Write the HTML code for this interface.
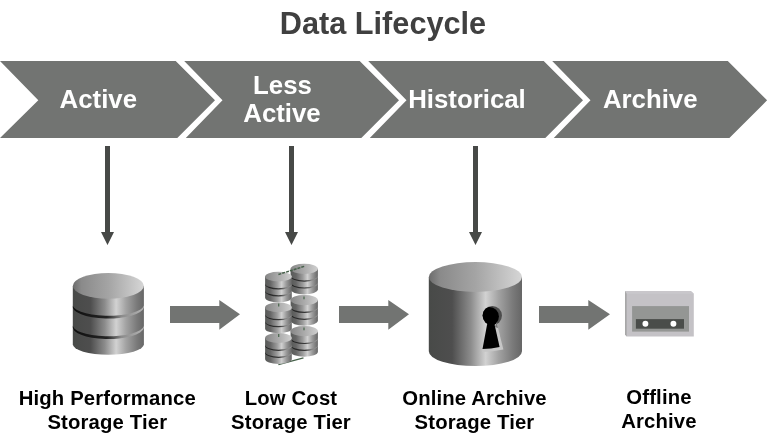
<!DOCTYPE html>
<html>
<head>
<meta charset="utf-8">
<title>Data Lifecycle</title>
<style>
html,body{margin:0;padding:0;background:#fff;}
body{width:768px;height:440px;overflow:hidden;}
svg{display:block;will-change:transform;}
text{font-family:"Liberation Sans",Arial,sans-serif;font-weight:bold;}
.title{font-size:30.7px;fill:#404040;}
.ch{font-size:25.8px;fill:#fff;}
.lb{font-size:20.3px;letter-spacing:0.15px;fill:#000;}
</style>
</head>
<body>
<svg width="768" height="440" viewBox="0 0 768 440">
<defs>
<linearGradient id="body" x1="0" x2="1" y1="0" y2="0">
<stop offset="0" stop-color="#484a48"/>
<stop offset="0.25" stop-color="#4e4e4e"/>
<stop offset="0.45" stop-color="#8c8c8c"/>
<stop offset="0.61" stop-color="#d2d2d2"/>
<stop offset="0.75" stop-color="#a2a2a2"/>
<stop offset="0.9" stop-color="#7a7a7a"/>
<stop offset="1" stop-color="#666"/>
</linearGradient>
<linearGradient id="top" x1="0" x2="1" y1="0" y2="0">
<stop offset="0" stop-color="#6c6c6c"/>
<stop offset="0.12" stop-color="#8a8a8a"/>
<stop offset="0.5" stop-color="#a4a4a4"/>
<stop offset="1" stop-color="#d6d6d6"/>
</linearGradient>
<linearGradient id="band" gradientUnits="userSpaceOnUse" x1="72.800" x2="143.900" y1="0" y2="0">
<stop offset="0" stop-color="#0e0e0e"/>
<stop offset="0.48" stop-color="#242424"/>
<stop offset="0.68" stop-color="#8a8a8a"/>
<stop offset="1" stop-color="#b4b4b4"/>
</linearGradient>
<linearGradient id="body2" x1="0" x2="1" y1="0" y2="0">
<stop offset="0" stop-color="#585a58"/>
<stop offset="0.2" stop-color="#666"/>
<stop offset="0.45" stop-color="#9c9c9c"/>
<stop offset="0.62" stop-color="#d0d0d0"/>
<stop offset="0.8" stop-color="#999"/>
<stop offset="1" stop-color="#666"/>
</linearGradient>
<linearGradient id="top2" x1="0" x2="1" y1="0" y2="0">
<stop offset="0" stop-color="#868686"/>
<stop offset="1" stop-color="#d0d0d0"/>
</linearGradient>
<linearGradient id="band2" x1="0" x2="1" y1="0" y2="0">
<stop offset="0" stop-color="#1c1c1c"/>
<stop offset="0.55" stop-color="#3a3a3a"/>
<stop offset="0.75" stop-color="#808080"/>
<stop offset="1" stop-color="#999"/>
</linearGradient>
</defs>
<rect width="768" height="440" fill="#fff"/>
<text class="title" x="383" y="33.5" text-anchor="middle">Data Lifecycle</text>
<!-- chevrons -->
<g fill="#727472">
<polygon points="0.0,61 175.7,61 215.0,100.3 177.3,138 0.0,138 38.3,100.3"/>
<polygon points="184.2,61 359.7,61 399.0,100.3 361.3,138 185.8,138 222.5,100.3"/>
<polygon points="368.2,61 543.7,61 583.0,100.3 545.3,138 369.8,138 406.5,100.3"/>
<polygon points="552.2,61 727.8,61 767.1,100.3 729.4,138 553.8,138 590.5,100.3"/>
</g>
<text class="ch" x="98.300" y="107.600" text-anchor="middle">Active</text>
<text class="ch" x="282.5" y="93.5" text-anchor="middle">Less</text>
<text class="ch" x="282" y="121.5" text-anchor="middle">Active</text>
<text class="ch" x="467" y="107.600" text-anchor="middle">Historical</text>
<text class="ch" x="650.200" y="107.600" text-anchor="middle">Archive</text>
<!-- vertical arrows -->
<g fill="#474947">
<path d="M105.0 146h5v86.100h4l-6.500 13l-6.500 -13h4z"/>
<path d="M289.0 146h5v86.100h4l-6.500 13l-6.500 -13h4z"/>
<path d="M473.0 146h5v86.100h4l-6.500 13l-6.500 -13h4z"/>
</g>
<!-- horizontal arrows -->
<g fill="#727472">
<path d="M170 306h49.3v-6l20.7 14.3l-20.7 15.5v-6.8h-49.3z"/>
<path d="M339 306h49.3v-6l20.7 14.3l-20.7 15.5v-6.8h-49.3z"/>
<path d="M539 306h49.3v-6l21.7 14.3l-21.7 15.5v-6.8h-49.3z"/>
</g>
<!-- icon 1: database -->
<g>
<path d="M72.800 285.900V344.300A35.550 10.500 0 0 0 143.900 344.300V285.900z" fill="url(#body)"/>
<path d="M72.800 303.600A35.550 11.200 0 0 0 143.900 305.600V307.600A35.550 11.900 0 0 1 72.800 305.600z" fill="url(#band)"/>
<path d="M72.800 324.100A35.550 11.200 0 0 0 143.900 326.100V328.100A35.550 11.900 0 0 1 72.800 326.100z" fill="url(#band)"/>
<ellipse cx="108.350" cy="285.900" rx="35.550" ry="12.800" fill="url(#top)"/>
</g>
<!-- icon 2: disk array -->
<g>
<path d="M278.400 364.600L303.500 357.900" stroke="#46604a" stroke-width="1.300" fill="none"/>
<path d="M290.6 268.8V289.3A13.65 5.1 0 0 0 317.9 289.3V268.8z" fill="url(#body2)"/><path d="M290.6 275.4A13.65 5.1 0 0 0 317.9 275.4V276.3A13.65 5.4 0 0 1 290.6 276.3z" fill="url(#band2)"/><path d="M290.6 282.3A13.65 5.1 0 0 0 317.9 282.3V283.2A13.65 5.4 0 0 1 290.6 283.2z" fill="url(#band2)"/><ellipse cx="304.25" cy="268.8" rx="13.65" ry="5.1" fill="url(#top2)"/>
<path d="M290.6 300.1V320.6A13.65 5.1 0 0 0 317.9 320.6V300.1z" fill="url(#body2)"/><path d="M290.6 306.7A13.65 5.1 0 0 0 317.9 306.7V307.6A13.65 5.4 0 0 1 290.6 307.6z" fill="url(#band2)"/><path d="M290.6 313.6A13.65 5.1 0 0 0 317.9 313.6V314.5A13.65 5.4 0 0 1 290.6 314.5z" fill="url(#band2)"/><ellipse cx="304.25" cy="300.1" rx="13.65" ry="5.1" fill="url(#top2)"/>
<path d="M290.6 331.2V351.7A13.65 5.1 0 0 0 317.9 351.7V331.2z" fill="url(#body2)"/><path d="M290.6 337.8A13.65 5.1 0 0 0 317.9 337.8V338.7A13.65 5.4 0 0 1 290.6 338.7z" fill="url(#band2)"/><path d="M290.6 344.7A13.65 5.1 0 0 0 317.9 344.7V345.6A13.65 5.4 0 0 1 290.6 345.6z" fill="url(#band2)"/><ellipse cx="304.25" cy="331.2" rx="13.65" ry="5.1" fill="url(#top2)"/>
<path d="M265.1 276.6V297.6A13.35 4.9 0 0 0 291.8 297.6V276.6z" fill="url(#body2)"/><path d="M265.1 283.4A13.35 4.9 0 0 0 291.8 283.4V284.3A13.35 5.2 0 0 1 265.1 284.3z" fill="url(#band2)"/><path d="M265.1 290.4A13.35 4.9 0 0 0 291.8 290.4V291.3A13.35 5.2 0 0 1 265.1 291.3z" fill="url(#band2)"/><ellipse cx="278.45" cy="276.6" rx="13.35" ry="4.9" fill="url(#top2)"/>
<path d="M265.1 307.4V328.4A13.35 4.9 0 0 0 291.8 328.4V307.4z" fill="url(#body2)"/><path d="M265.1 314.2A13.35 4.9 0 0 0 291.8 314.2V315.1A13.35 5.2 0 0 1 265.1 315.1z" fill="url(#band2)"/><path d="M265.1 321.2A13.35 4.9 0 0 0 291.8 321.2V322.1A13.35 5.2 0 0 1 265.1 322.1z" fill="url(#band2)"/><ellipse cx="278.45" cy="307.4" rx="13.35" ry="4.9" fill="url(#top2)"/>
<path d="M265.1 338.0V359.0A13.35 4.9 0 0 0 291.8 359.0V338.0z" fill="url(#body2)"/><path d="M265.1 344.8A13.35 4.9 0 0 0 291.8 344.8V345.7A13.35 5.2 0 0 1 265.1 345.7z" fill="url(#band2)"/><path d="M265.1 351.8A13.35 4.9 0 0 0 291.8 351.8V352.7A13.35 5.2 0 0 1 265.1 352.7z" fill="url(#band2)"/><ellipse cx="278.45" cy="338.0" rx="13.35" ry="4.9" fill="url(#top2)"/>
<path d="M278.400 274.500L304.500 266.300" stroke="#46604a" stroke-width="1.500" stroke-dasharray="3 1" fill="none"/>
<path d="M278.700 303.400v3M278.700 334v3M304 296.400v2.800M304 327.400v2.800" stroke="#4f6a52" stroke-width="1.300" fill="none"/>
</g>
<!-- icon 3: locked archive -->
<g>
<path d="M428.800 277V351.300A46.600 14.800 0 0 0 522 351.300V277z" fill="url(#body)"/>
<ellipse cx="475.400" cy="277" rx="46.600" ry="15" fill="url(#top)"/>
<clipPath id="hole"><circle cx="492.300" cy="315.600" r="9.700"/></clipPath>
<circle cx="492.300" cy="315.600" r="9.700" fill="#4c4c4c"/>
<path d="M488 323L482 351.900Q493 351.700 503.400 349.500L496.300 321z" fill="#c6c6c6"/>
<path d="M496.500 322l1.500 6l-3 -1z" fill="#777"/>
<circle cx="489.300" cy="316.600" r="9.600" fill="#000" clip-path="url(#hole)"/>
<path d="M487.600 322L482.500 349.100Q491 349.100 499.600 347L494 322z" fill="#000"/>
</g>
<!-- icon 4: tape -->
<g>
<polygon points="625.100,291.100 690.800,291.100 693.800,293.800 693.800,336.600 626.600,336.600 625.100,334.600" fill="#c4c2c6"/>
<polygon points="625.100,291.100 690.800,291.100 693.800,293.800 626.600,293.800" fill="#c9c7cb"/>
<polygon points="625.100,291.100 626.600,293.800 626.600,336.600 625.100,334.600" fill="#a3a3a3"/>
<rect x="632.100" y="306.100" width="56.900" height="25.500" fill="#949694"/>
<rect x="635.900" y="319.100" width="48.100" height="9.600" fill="#4a4d4a"/>
<circle cx="645.400" cy="323.800" r="2.950" fill="#fff"/>
<circle cx="673.400" cy="323.800" r="2.950" fill="#fff"/>
</g>
<!-- labels -->
<text class="lb" x="107.300" y="405.300" text-anchor="middle">High Performance</text>
<text class="lb" x="107.300" y="429.400" text-anchor="middle">Storage Tier</text>
<text class="lb" x="291" y="405.300" text-anchor="middle">Low Cost</text>
<text class="lb" x="291" y="429.400" text-anchor="middle">Storage Tier</text>
<text class="lb" x="474.500" y="405.300" text-anchor="middle">Online Archive</text>
<text class="lb" x="474.500" y="429.400" text-anchor="middle">Storage Tier</text>
<text class="lb" x="659" y="404" text-anchor="middle">Offline</text>
<text class="lb" x="659" y="428" text-anchor="middle">Archive</text>
</svg>
</body>
</html>
